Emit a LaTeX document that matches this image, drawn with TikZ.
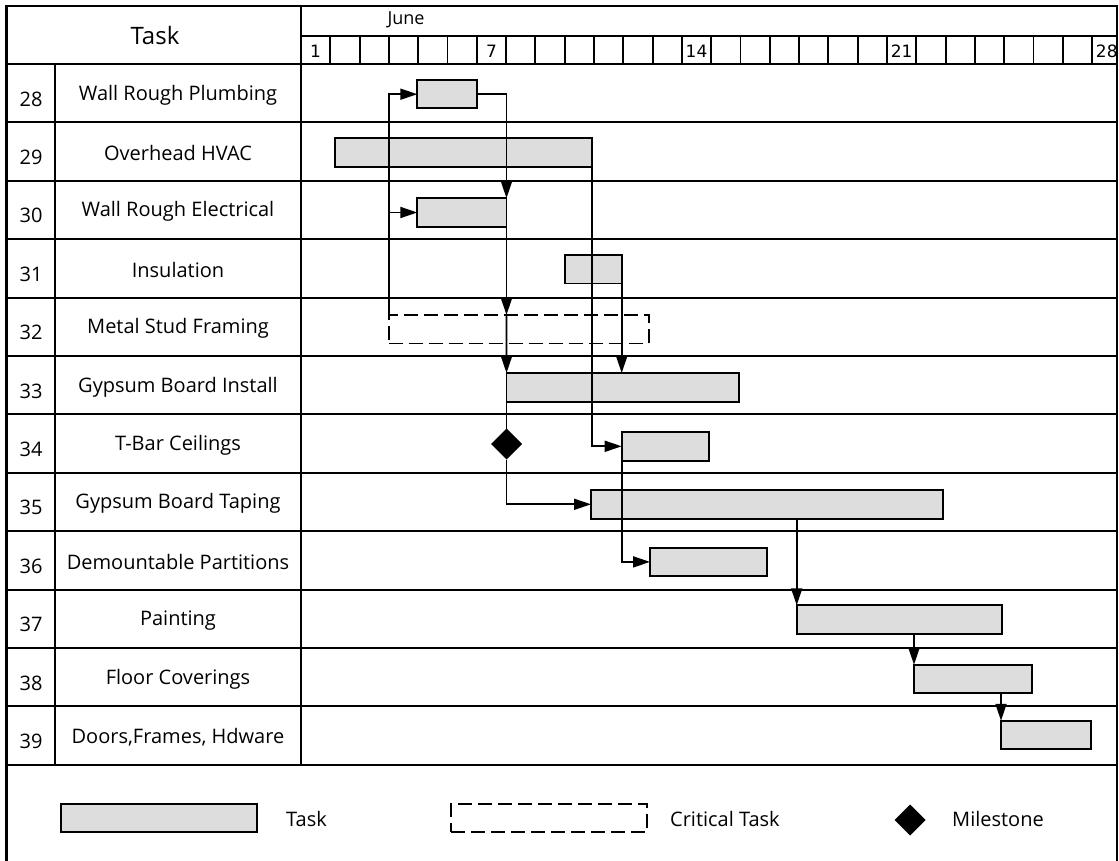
\documentclass[tikz,border=0pt]{standalone}
\usepackage{fontspec}
\setmainfont{Open Sans}
\newfontfamily\dayfont{DejaVu Sans}
\usetikzlibrary{arrows.meta,shapes.geometric}
\definecolor{barfill}{RGB}{221,221,221}
\tikzset{
  tabline/.style={line width=1.9pt},
  taskbar/.style={draw, fill=barfill, line width=1.9pt, minimum height=28.5pt,
    inner sep=0pt, outer sep=0pt, anchor=west},
  critbar/.style={draw, dash pattern=on 14pt off 6pt, line width=1.9pt,
    minimum height=28.5pt, inner sep=0pt, outer sep=0pt, anchor=west},
  milestone/.style={diamond, fill=black, minimum width=31pt, minimum height=31pt,
    inner sep=0pt, outer sep=0pt},
  dep/.style={line width=1.8pt, -{Triangle[length=17pt,width=11pt]}},
}
\begin{document}
\begin{tikzpicture}[x=1pt, y=-1pt, font=\fontsize{20}{22}\selectfont]
\useasboundingbox (0,0) rectangle (1119,861);

% Marco exterior y lineas de la tabla
\draw[line width=2.2pt] (6.5,861) -- (6.5,6) -- (1117,6) -- (1117,861);
\draw[tabline] (301,6) -- (301,764.8);
\draw[tabline] (55,64) -- (55,764.8);
\draw[tabline] (301,35.7) -- (1117,35.7);
\foreach \k in {0,...,11}
  \draw[tabline] (6.5,64+58.4*\k) -- (1117,64+58.4*\k);
\draw[line width=2.4pt] (6.5,764.8) -- (1117,764.8);

% Cabecera: mes y dias
\node[font=\fontsize{24}{27}\selectfont] (task) at (155,36) {Task};
\node[font=\fontsize{18}{20}\selectfont] (june) at (406,20) {June};
\foreach \d in {1,...,27}
  \draw[tabline] (301+29.3*\d,35.7) -- (301+29.3*\d,64);
\foreach \d in {1,7,14,21,28}
  \node[font=\dayfont\fontsize{17}{18}\selectfont] (d\d) at (286.35+29.3*\d,51) {\d};

% Numero y nombre de cada tarea
\foreach \num/\name [count=\i from 0] in {28/Wall Rough Plumbing, 29/Overhead HVAC,
    30/Wall Rough Electrical, 31/Insulation, 32/Metal Stud Framing,
    33/Gypsum Board Install, 34/T-Bar Ceilings, 35/Gypsum Board Taping,
    36/Demountable Partitions, 37/Painting, 38/Floor Coverings,
    39/{Doors,Frames, Hdware}}{
  \node (n\num) at (31,99+58.4*\i) {\num};
  \node (l\num) at (178,95+58.4*\i) {\name};
}

% Barras: tarea/inicio/fin/altura
\foreach \id/\xa/\xb/\yc in {28/417.3/476.7/94.2, 29/335/591.7/152.5,
    30/417.3/506.5/212.5, 31/565/621.7/269.2, 33/506.5/738.7/387.3,
    34/621.7/708.7/446.3, 35/591/942.7/504.3, 36/650/767.3/561.9,
    37/796.7/1001.7/619.5, 38/914/1031.7/679, 39/1001/1090.7/735}{
  \pgfmathsetmacro\w{\xb-\xa}
  \node[taskbar, minimum width=\w pt] (t\id) at (\xa,\yc) {};
}
\node[critbar, minimum width=260pt] (t32) at (389.3,329.2) {};
\node[milestone] (ms) at (506.5,444) {};

% Dependencias
\draw[dep] (t32.north west) |- (t28.west);
\draw[dep] (t32.north west) |- (t30.west);
\draw[dep] (t28.east) -| (t30.north east);
\draw[dep] (t30.south east) -- (t30.south east |- t32.north);
\draw[dep] (t30.south east |- t32.north) -- (t33.north west);
\draw[dep] (t29.south east) |- (t34.west);
\draw[dep] (t31.south east) -- (t31.south east |- t33.north);
\draw[dep] (t34.south west) |- (t36.west);
\draw[line width=1.8pt] (t33.south west) -- (ms.north);
\draw[dep] (ms.south) |- (t35.west);
\draw[dep] (t37.north west |- t35.south) -- (t37.north west);
\draw[dep] (t38.north west |- t37.south) -- (t38.north west);
\draw[dep] (t39.north west |- t38.south) -- (t39.north west);

% Leyenda
\node[taskbar, minimum width=196pt] (lgtask) at (61,818) {};
\node[anchor=west, inner sep=0pt] (lgtasktxt) at (286,819) {Task};
\node[critbar, minimum width=196pt] (lgcrit) at (451,818) {};
\node[anchor=west, inner sep=0pt] (lgcrittxt) at (670,819) {Critical Task};
\node[milestone] (lgms) at (910,820) {};
\node[anchor=west, inner sep=0pt] (lgmstxt) at (952,819) {Milestone};
\end{tikzpicture}
\end{document}
